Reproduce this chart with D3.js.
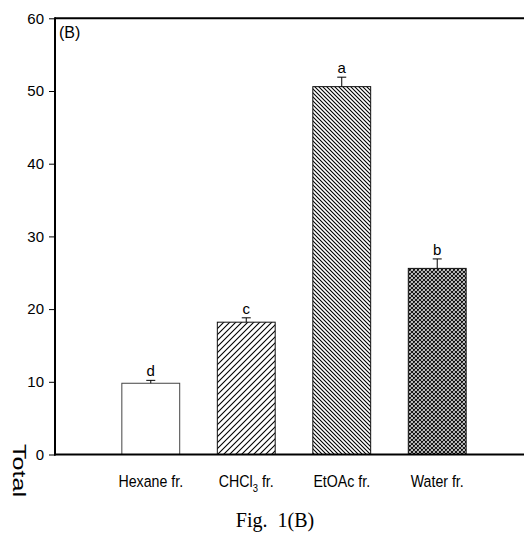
<!DOCTYPE html>
<html>
<head>
<meta charset="utf-8">
<script src="https://cdnjs.cloudflare.com/ajax/libs/d3/7.8.5/d3.min.js"></script>
<style>
  body { margin: 0; background: #fff; }
  svg { display: block; }
</style>
</head>
<body>
<div id="chart"></div>
<script>
// values
var categories = ['Hexane fr.', 'CHCl3 fr.', 'EtOAc fr.', 'Water fr.'];
var totals = [9.8, 18.2, 50.6, 25.6];
var errors = [0.4, 0.6, 1.3, 1.3];
var letters = ['d', 'c', 'a', 'b'];
var fills = ['white', 'url(#fwd)', 'url(#back)', 'url(#cross)'];
var yTicks = [0, 10, 20, 30, 40, 50, 60];

var width = 524, height = 535;
var margin = {top: 18.3, left: 55, bottom: 454.5};

var svg = d3.select('#chart').append('svg')
  .attr('width', width)
  .attr('height', height);

// hatch patterns
var defs = svg.append('defs');
defs.append('pattern')
  .attr('id', 'fwd').attr('patternUnits', 'userSpaceOnUse')
  .attr('width', 6).attr('height', 6)
  .append('path')
  .attr('d', 'M0,6 L6,0 M-1.5,1.5 L1.5,-1.5 M4.5,7.5 L7.5,4.5')
  .attr('stroke', '#000').attr('stroke-width', 1.1);
defs.append('pattern')
  .attr('id', 'back').attr('patternUnits', 'userSpaceOnUse')
  .attr('width', 4).attr('height', 4)
  .append('path')
  .attr('d', 'M0,0 L4,4 M-1,3 L1,5 M3,-1 L5,1')
  .attr('stroke', '#000').attr('stroke-width', 1.1);
var cross = defs.append('pattern')
  .attr('id', 'cross').attr('patternUnits', 'userSpaceOnUse')
  .attr('width', 4).attr('height', 4);
cross.append('rect').attr('width', 4).attr('height', 4).attr('fill', '#fff');
cross.append('path')
  .attr('d', 'M0,0 L4,4 M-1,3 L1,5 M3,-1 L5,1 M0,4 L4,0 M-1,1 L1,-1 M3,5 L5,3')
  .attr('stroke', '#111').attr('stroke-width', 1.2);

var x = d3.scaleBand()
  .domain(categories)
  .range([margin.left, 533])
  .paddingInner(0.394)
  .paddingOuter(0.7);

var y = d3.scaleLinear()
  .domain([0, 60])
  .range([margin.bottom, margin.top]);

// y axis
var yAxis = svg.append('g')
  .attr('transform', 'translate(' + margin.left + ',0)')
  .call(d3.axisLeft(y).tickValues(yTicks).tickSize(6).tickPadding(5));
yAxis.select('.domain').remove();
yAxis.selectAll('.tick line').attr('stroke', '#000').attr('stroke-width', 1);
yAxis.selectAll('.tick text')
  .style('font-family', 'Arial, "Liberation Sans", sans-serif')
  .style('font-size', '15px')
  .attr('fill', '#000');

// frame lines: left, top
svg.append('line')
  .attr('x1', margin.left).attr('x2', margin.left)
  .attr('y1', margin.top - 1).attr('y2', margin.bottom + 1)
  .attr('stroke', '#000').attr('stroke-width', 2);
svg.append('line')
  .attr('x1', margin.left).attr('x2', width)
  .attr('y1', margin.top).attr('y2', margin.top)
  .attr('stroke', '#000').attr('stroke-width', 2);

// bars
var bars = svg.selectAll('.bar')
  .data(categories)
  .enter().append('g')
  .attr('class', 'bar');

bars.append('rect')
  .attr('x', function(d) { return x(d); })
  .attr('y', function(d, i) { return y(totals[i]); })
  .attr('width', x.bandwidth())
  .attr('height', function(d, i) { return y(0) - y(totals[i]); })
  .attr('fill', function(d, i) { return fills[i]; })
  .attr('stroke', function(d, i) { return i === 0 ? '#444' : '#111'; })
  .attr('stroke-width', 1);

// error bars (upper only)
bars.append('line')
  .attr('x1', function(d) { return x(d) + x.bandwidth() / 2; })
  .attr('x2', function(d) { return x(d) + x.bandwidth() / 2; })
  .attr('y1', function(d, i) { return y(totals[i]); })
  .attr('y2', function(d, i) { return y(totals[i] + errors[i]); })
  .attr('stroke', '#000').attr('stroke-width', 1);
bars.append('line')
  .attr('x1', function(d) { return x(d) + x.bandwidth() / 2 - 4.5; })
  .attr('x2', function(d) { return x(d) + x.bandwidth() / 2 + 4.5; })
  .attr('y1', function(d, i) { return y(totals[i] + errors[i]); })
  .attr('y2', function(d, i) { return y(totals[i] + errors[i]); })
  .attr('stroke', '#000').attr('stroke-width', 1);

bars.append('text')
  .attr('x', function(d) { return x(d) + x.bandwidth() / 2; })
  .attr('y', function(d, i) { return y(totals[i] + errors[i]) - 4; })
  .attr('text-anchor', 'middle')
  .style('font-family', 'Arial, "Liberation Sans", sans-serif')
  .style('font-size', '15px')
  .text(function(d, i) { return letters[i]; });

// bottom axis line
svg.append('line')
  .attr('x1', margin.left - 1).attr('x2', width)
  .attr('y1', margin.bottom).attr('y2', margin.bottom)
  .attr('stroke', '#000').attr('stroke-width', 2);

// category labels (condensed look), subscript for CHCl3
var labels = svg.selectAll('.xlab')
  .data(categories)
  .enter().append('text')
  .attr('class', 'xlab')
  .attr('transform', function(d) {
    return 'translate(' + (x(d) + x.bandwidth() / 2) + ',487) scale(0.86,1)';
  })
  .attr('text-anchor', 'middle')
  .style('font-family', 'Arial, "Liberation Sans", sans-serif')
  .style('font-size', '16.5px');

labels.each(function(d) {
  var t = d3.select(this);
  var m = d.match(/^(.*?)(\d)(.*)$/);
  if (m) {
    t.append('tspan').text(m[1]);
    t.append('tspan').attr('dy', 5).style('font-size', '11px').text(m[2]);
    t.append('tspan').attr('dy', -5).text(m[3]);
  } else {
    t.text(d);
  }
});

// panel tag
svg.append('text')
  .attr('x', 59).attr('y', 38)
  .style('font-family', 'Arial, "Liberation Sans", sans-serif')
  .style('font-size', '16px')
  .text('(B)');

// y title
svg.append('text')
  .attr('transform', 'translate(13,444) rotate(90)')
  .attr('textLength', 53)
  .attr('lengthAdjust', 'spacingAndGlyphs')
  .style('font-family', 'Arial, "Liberation Sans", sans-serif')
  .style('font-size', '18px')
  .text('Total');

// figure caption
svg.append('text')
  .attr('x', 275).attr('y', 527)
  .attr('text-anchor', 'middle')
  .style('font-family', '"Liberation Serif", "Times New Roman", serif')
  .style('font-size', '20px')
  .style('white-space', 'pre')
  .attr('xml:space', 'preserve')
  .text('Fig.  1(B)');
</script>
</body>
</html>
